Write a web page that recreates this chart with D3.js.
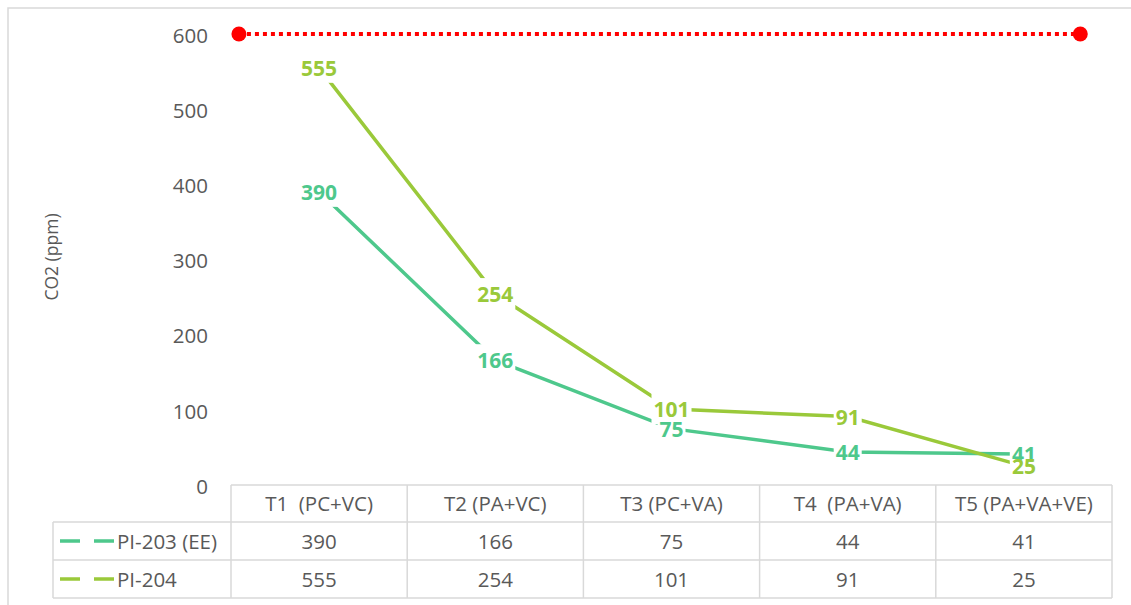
<!DOCTYPE html>
<html>
<head>
<meta charset="utf-8">
<script src="https://cdn.jsdelivr.net/npm/d3@7"></script>
<style>
  body { margin: 0; background: #fff; }
  svg text { font-family: "Open Sans", "Noto Sans", sans-serif; }
</style>
</head>
<body>
<svg id="chart" width="1131" height="605"></svg>
<script>
const categories = ["T1  (PC+VC)", "T2 (PA+VC)", "T3 (PC+VA)", "T4  (PA+VA)", "T5 (PA+VA+VE)"];
const pi203 = [390, 166, 75, 44, 41];
const pi204 = [555, 254, 101, 91, 25];
const limitValue = 600;
const limitX = [0.545, 5.32]; // in category units, the red limit line ends
const yTicks = [0, 100, 200, 300, 400, 500, 600];

const series = [
    { name: "PI-203 (EE)", values: pi203, color: "#4ec88c" },
    { name: "PI-204", values: pi204, color: "#9ac93a" }
];

const svg = d3.select("#chart");
const grey = "#595959";
const border = "#d9d9d9";

// outer chart frame (cropped on the right and bottom)
svg.append("rect").attr("x", 8).attr("y", 8).attr("width", 1140).attr("height", 620)
    .attr("fill", "none").attr("stroke", border).attr("stroke-width", 1.5);

const plotLeft = 231, plotRight = 1112, plotTop = 34, plotBottom = 485;
const x = d3.scaleLinear().domain([0.5, 5.5]).range([plotLeft, plotRight]);
const y = d3.scaleLinear().domain([0, 600]).range([plotBottom, plotTop]);

// y axis labels
const yAxis = d3.axisLeft(y).tickValues(yTicks).tickSize(0).tickPadding(0);
const gy = svg.append("g").attr("transform", "translate(208,0)").call(yAxis);
gy.select(".domain").remove();
gy.selectAll("text").attr("fill", grey).style("font-size", "20.5px")
    .style("font-family", "'Open Sans', sans-serif").attr("dy", "0.4em");

svg.append("text").attr("transform", "translate(58,257) rotate(-90)")
    .attr("text-anchor", "middle").attr("fill", grey).style("font-size", "17.5px")
    .text("CO2 (ppm)");

// red limit line
svg.append("line")
    .attr("x1", x(limitX[0])).attr("x2", x(limitX[1]))
    .attr("y1", y(limitValue)).attr("y2", y(limitValue))
    .attr("stroke", "#ff0000").attr("stroke-width", 4).attr("stroke-dasharray", "4,4");
svg.selectAll("circle.limit").data(limitX).enter().append("circle")
    .attr("class", "limit")
    .attr("cx", d => x(d)).attr("cy", y(limitValue)).attr("r", 7.5).attr("fill", "#ff0000");

// series lines
const line = d3.line().x((d, i) => x(i + 1)).y(d => y(d));
series.forEach(s => {
    svg.append("path").datum(s.values).attr("d", line)
        .attr("fill", "none").attr("stroke", s.color).attr("stroke-width", 3.5);
});

// data labels: white boxes cut the lines, texts drawn on top of all boxes
const boxLayer = svg.append("g");
const textLayer = svg.append("g");
series.forEach(s => {
    s.values.forEach((v, i) => {
        const t = textLayer.append("text").attr("x", x(i + 1)).attr("y", y(v)).attr("dy", "0.38em")
            .attr("text-anchor", "middle").attr("fill", s.color)
            .style("font-size", "21px").style("font-weight", "bold").text(v);
        const w = t.node().getComputedTextLength();
        boxLayer.append("rect").attr("x", x(i + 1) - w / 2 - 2).attr("y", y(v) - 16)
            .attr("width", w + 4).attr("height", 31).attr("fill", "#fff");
    });
});

// data table
const rowH = [485, 522, 560, 598];
const tableLeft = 53;
const tg = svg.append("g").attr("stroke", border).attr("stroke-width", 1.5);
tg.append("line").attr("x1", plotLeft).attr("x2", plotRight).attr("y1", rowH[0]).attr("y2", rowH[0]);
[rowH[1], rowH[2], rowH[3]].forEach(yy => {
    tg.append("line").attr("x1", tableLeft).attr("x2", plotRight).attr("y1", yy).attr("y2", yy);
});
d3.range(categories.length + 1).forEach(i => {
    const xx = x(i + 0.5);
    tg.append("line").attr("x1", xx).attr("x2", xx).attr("y1", rowH[0]).attr("y2", rowH[3]);
});
tg.append("line").attr("x1", tableLeft).attr("x2", tableLeft).attr("y1", rowH[1]).attr("y2", rowH[3]);

svg.selectAll("text.cat").data(categories).enter().append("text")
    .attr("class", "cat").attr("x", (d, i) => x(i + 1)).attr("y", (rowH[0] + rowH[1]) / 2)
    .attr("dy", "0.38em").attr("text-anchor", "middle").attr("fill", grey)
    .style("font-size", "20.5px").style("white-space", "pre").text(d => d);

series.forEach((s, r) => {
    const cy = (rowH[r + 1] + rowH[r + 2]) / 2;
    svg.append("line").attr("x1", 60).attr("x2", 115).attr("y1", cy).attr("y2", cy)
        .attr("stroke", s.color).attr("stroke-width", 3.5).attr("stroke-dasharray", "20,14");
    svg.append("text").attr("x", 117).attr("y", cy).attr("dy", "0.38em").attr("fill", grey)
        .style("font-size", "20.5px").text(s.name);
    s.values.forEach((v, i) => {
        svg.append("text").attr("x", x(i + 1)).attr("y", cy).attr("dy", "0.38em")
            .attr("text-anchor", "middle").attr("fill", grey).style("font-size", "20.5px").text(v);
    });
});
</script>
</body>
</html>
